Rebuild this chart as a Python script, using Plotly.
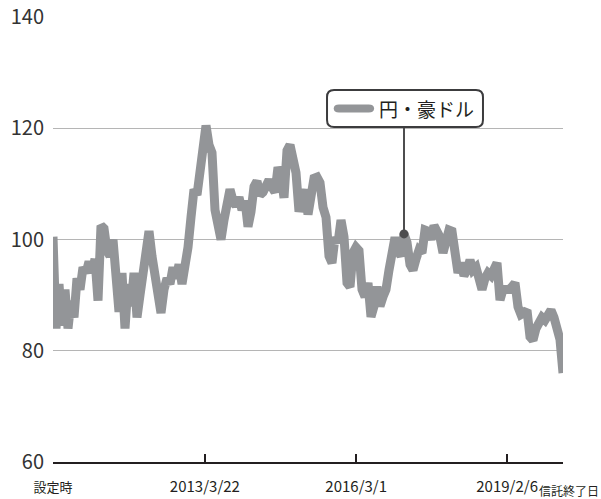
import pandas as pd
import plotly.graph_objects as go

# ---- data ----
start_date = "2010-04-08"
end_date = "2020-03-09"
values = [
    100.5, 84, 92, 84.5, 91, 84, 89, 86, 93, 91,
    95, 94, 96, 94, 96.5, 89, 102.5, 102, 98, 97,
    100, 93, 87, 94, 84, 92, 88, 94, 86, 90,
    94, 98, 101.5, 97, 93, 88, 86.8, 91, 93, 92,
    95, 93, 95.5, 92, 94.5, 98.6, 104, 109, 108, 113,
    116, 120.5, 117, 115.6, 105.3, 103, 100, 103.5, 107, 109,
    107, 106, 107.6, 105.3, 107, 102.3, 105, 109.5, 110.5, 108,
    108.5, 110, 110.7, 109.4, 108.5, 113, 111.5, 107.5, 116, 117,
    114.5, 112, 105, 108, 109, 104.5, 109.5, 111, 111.2, 110.2,
    105.8, 104, 97, 95.8, 100.4, 99.4, 103.5, 100.5, 92.2, 91.5,
    97.6, 98.6, 98, 91, 89.7, 92.2, 86.1, 88, 91.5, 88,
    89.7, 91, 94.5, 98.5, 100.4, 98, 97, 101, 99.5, 95.5,
    94.5, 96.5, 98.1, 97.6, 101.7, 101.5, 100, 102.5, 101.5, 100.4,
    97.6, 100, 101.7, 101.5, 98.1, 94, 95.8, 93.5, 94.5, 96.3,
    94.5, 95, 93, 91, 93, 94, 93.5, 94.5, 95.8, 89.1,
    91, 91, 91, 91.5, 92.2, 87.9, 86.5, 86.8, 87.3, 82.5,
    81.9, 84, 85.5, 86, 85.5, 86.5, 87.3, 86, 84.5, 82,
    76,
]
tick_dates = ["2010-04-08", "2013-03-22", "2016-03-01", "2019-02-06"]
tick_labels = ["設定時", "2013/3/22", "2016/3/1", "2019/2/6"]
end_label = "信託終了日"
series_name = "円・豪ドル"
y_ticks = [60, 80, 100, 120, 140]
marker_index = 117
callout_top_value = 120.2

dates = pd.date_range(start_date, end_date, periods=len(values))

LINE_GRAY = "#939598"
DARK = "#231f20"
CALLOUT = "#4d4d4f"
CJK = "Noto Sans CJK JP"

fig = go.Figure()
fig.add_trace(go.Scatter(
    x=dates, y=values, mode="lines",
    line=dict(color=LINE_GRAY, width=9),
    hoverinfo="skip", showlegend=False,
))
fig.add_trace(go.Scatter(
    x=[dates[marker_index]], y=[values[marker_index]], mode="markers",
    marker=dict(color=CALLOUT, size=9),
    hoverinfo="skip", showlegend=False,
))

# plot area geometry (px) used for the callout box in paper units
W, H = 510.0, 445.0

def px_x(p):
    return p / W

def px_y(p):
    return p / H

# callout box (rounded rectangle)
x0, x1 = 0.5373, 0.8431
y0, y1 = 0.7528, 0.8360
rx, ry = px_x(7), px_y(7)
box_path = (
    f"M {x0+rx},{y1} L {x1-rx},{y1} Q {x1},{y1} {x1},{y1-ry} "
    f"L {x1},{y0+ry} Q {x1},{y0} {x1-rx},{y0} L {x0+rx},{y0} "
    f"Q {x0},{y0} {x0},{y0+ry} L {x0},{y1-ry} Q {x0},{y1} {x0+rx},{y1} Z"
)
# legend swatch (pill)
yc = (y0 + y1) / 2
sx0, sx1 = 0.5530, 0.6270
hr_x, hr_y = px_x(4), px_y(4)
pill = (
    f"M {sx0+hr_x},{yc+hr_y} L {sx1-hr_x},{yc+hr_y} "
    f"Q {sx1+hr_x*0.33},{yc+hr_y} {sx1+hr_x*0.33},{yc} "
    f"Q {sx1+hr_x*0.33},{yc-hr_y} {sx1-hr_x},{yc-hr_y} "
    f"L {sx0+hr_x},{yc-hr_y} Q {sx0-hr_x*0.33},{yc-hr_y} {sx0-hr_x*0.33},{yc} "
    f"Q {sx0-hr_x*0.33},{yc+hr_y} {sx0+hr_x},{yc+hr_y} Z"
)

fig.add_shape(type="line", xref="x", yref="y",
              x0=dates[marker_index], x1=dates[marker_index],
              y0=values[marker_index], y1=callout_top_value,
              line=dict(color=CALLOUT, width=2), layer="above")
fig.add_shape(type="path", xref="paper", yref="paper", path=box_path,
              fillcolor="white", line=dict(color="#3c3c3e", width=2), layer="above")
fig.add_shape(type="path", xref="paper", yref="paper", path=pill,
              fillcolor=LINE_GRAY, line=dict(width=0), layer="above")
fig.add_annotation(xref="paper", yref="paper", x=0.6353, y=yc,
                   text=series_name, showarrow=False,
                   xanchor="left", yanchor="middle",
                   font=dict(family=CJK, size=19, color=DARK))
fig.add_annotation(xref="paper", yref="paper", x=1.0745, y=-0.063,
                   text=end_label, showarrow=False,
                   xanchor="right", yanchor="middle",
                   font=dict(family=CJK, size=12, color=DARK))

fig.update_layout(
    width=601, height=499,
    margin=dict(l=53, r=38, t=17, b=37),
    paper_bgcolor="white", plot_bgcolor="white",
    showlegend=False,
    xaxis=dict(
        type="date", range=[dates[0], dates[-1]],
        tickvals=pd.to_datetime(tick_dates),
        ticktext=[f"<span style='font-size:13px'>{t}</span>" if not t[0].isdigit() else t
                  for t in tick_labels],
        ticks="inside", ticklen=8, tickwidth=2, tickcolor=DARK,
        showline=True, linecolor=DARK, linewidth=2,
        showgrid=False, zeroline=False,
        tickfont=dict(family=CJK, size=15, color=DARK),
        ticklabelstandoff=10, automargin=False,
    ),
    yaxis=dict(
        range=[60, 140], tickvals=y_ticks,
        showgrid=True, gridcolor="#b5b5b5", gridwidth=1,
        showline=False, zeroline=False, ticks="",
        tickfont=dict(family=CJK, size=20, color="#333333"),
        ticklabelstandoff=8, automargin=False,
    ),
)

fig.write_html(
    "out.html",
    config={"displayModeBar": False, "staticPlot": True},
    post_script="document.body.style.margin='0';document.body.style.overflow='hidden';",
)
